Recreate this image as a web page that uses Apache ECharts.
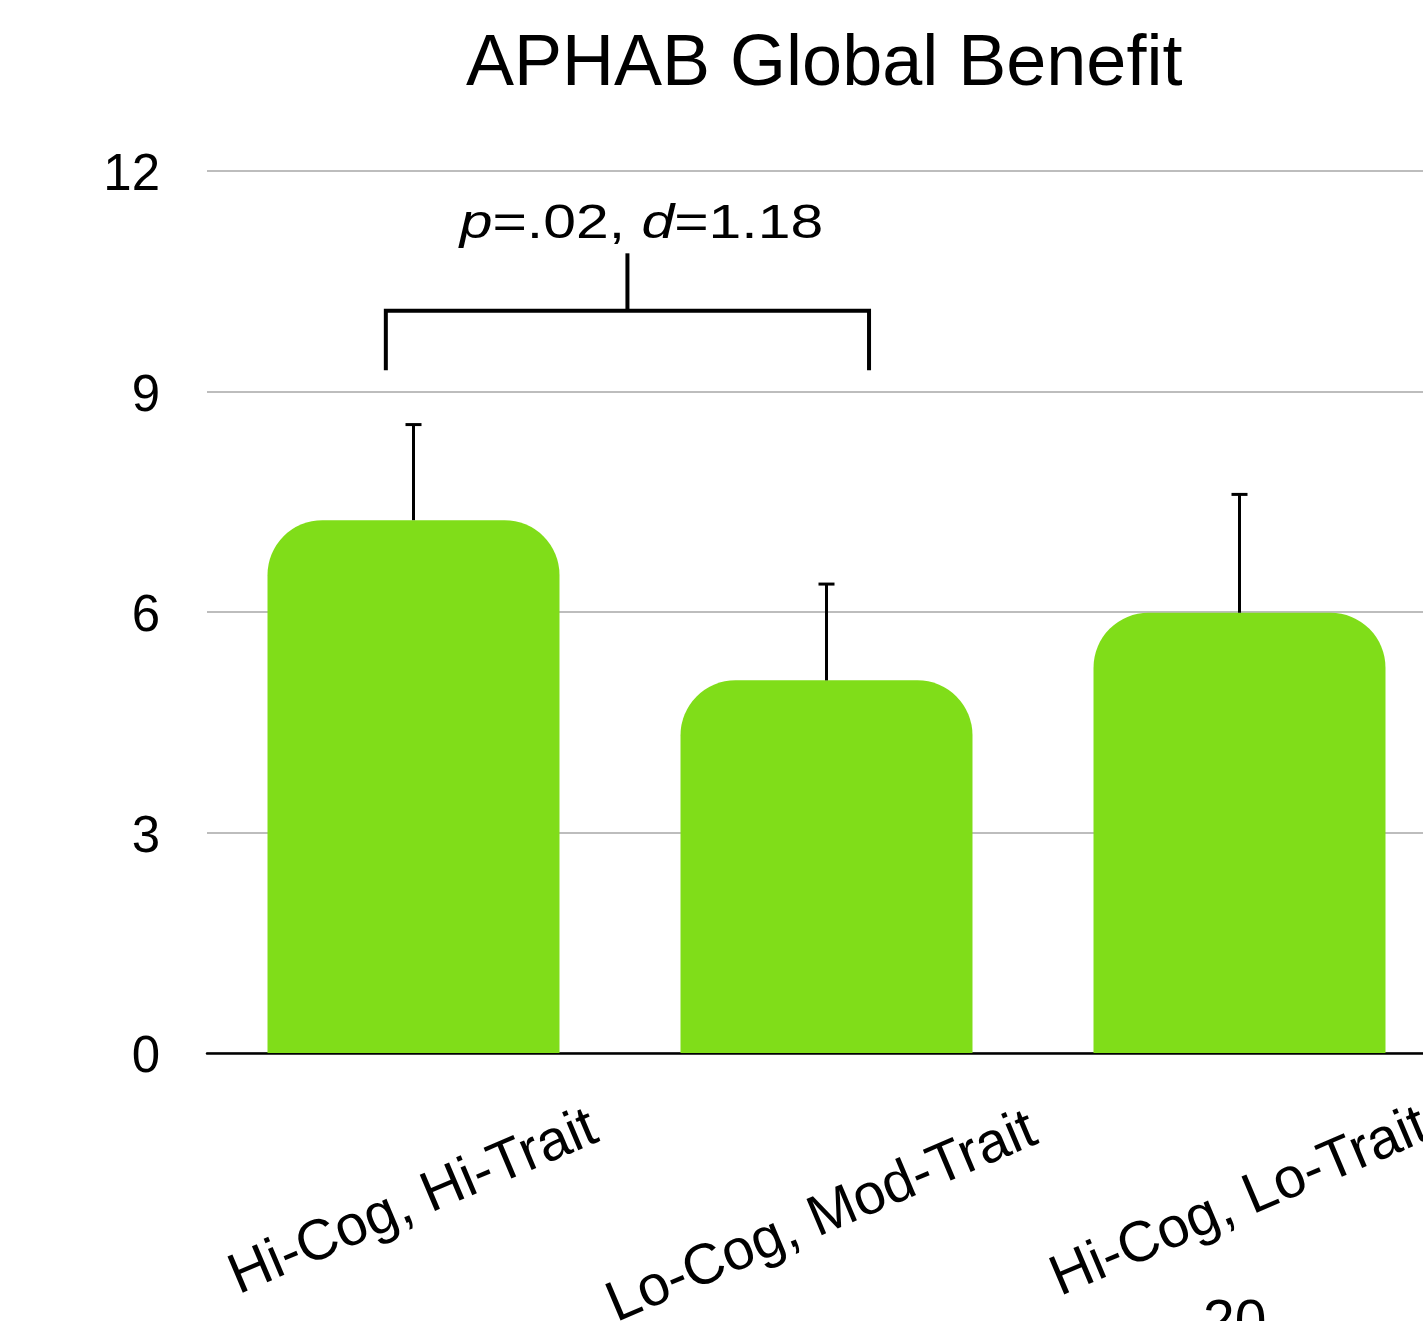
<!DOCTYPE html>
<html><head><meta charset="utf-8">
<script src="https://cdn.jsdelivr.net/npm/echarts@6/dist/echarts.min.js"></script>
<style>html,body{margin:0;padding:0;background:#fff}#c{width:1423px;height:1321px}</style>
</head><body><div id="c"></div>
<script>
const titleText = 'APHAB Global Benefit';
const categories = ['Hi-Cog, Hi-Trait', 'Lo-Cog, Mod-Trait', 'Hi-Cog, Lo-Trait'];
const means = [7.25, 5.07, 5.99];
const errors = [1.30, 1.31, 1.61];
const yMin = 0, yMax = 12, yStep = 3;
// bracket: category positions (fractional) and value levels
const bracketX = [-0.067, 1.103];
const bracketLevels = { bar: 10.1, legBottom: 9.29, tickTop: 10.88, label: 11.27 };
const annotation = '{i|p}=.02, {i|d}=1.18';
const footText = '20';

const FONT = '"Liberation Sans", Helvetica, Arial, sans-serif';
const chart = echarts.init(document.getElementById('c'), null, { renderer: 'canvas' });

const errData = means.map((m, i) => [i, m, m + errors[i]]);

const option = {
  backgroundColor: '#ffffff',
  animation: false,
  title: {
    text: titleText, left: 466, top: 29, padding: 0,
    textStyle: { fontFamily: FONT, fontSize: 72, fontWeight: 'normal', color: '#000' }
  },
  grid: { left: 207, width: 1239, top: 171, bottom: 268, containLabel: false, outerBoundsMode: 'none' },
  xAxis: {
    type: 'category', data: categories,
    axisTick: { show: false },
    axisLine: { lineStyle: { color: '#000', width: 2.5 } },
    axisLabel: {
      interval: 0, rotate: 23, align: 'center', verticalAlign: 'middle', margin: 150,
      fontFamily: FONT, fontSize: 57, color: '#000',
      formatter: function (v, i) { return i === 1 ? '{m|' + v + '}' : '{n|' + v + '}'; },
      rich: {
        n: { fontFamily: FONT, fontSize: 57, color: '#000' },
        m: { fontFamily: FONT, fontSize: 57, color: '#000', padding: [24, 20, 0, 0] }
      }
    }
  },
  yAxis: {
    type: 'value', min: yMin, max: yMax, interval: yStep,
    axisLine: { show: false }, axisTick: { show: false },
    axisLabel: {
      margin: 47, fontFamily: FONT, fontSize: 51, color: '#000',
      formatter: '{a|{value}}',
      rich: { a: { fontFamily: FONT, fontSize: 51, color: '#000', padding: [10, 0, 0, 0] } }
    },
    splitLine: { lineStyle: { color: '#BDBDBD', width: 2 } }
  },
  series: [
    {
      type: 'bar', data: means, barWidth: '70.7%',
      itemStyle: { color: '#80DD19', borderRadius: [55, 55, 0, 0] },
      z: 2
    },
    {
      type: 'custom', data: errData, z: 5,
      renderItem: function (params, api) {
        const i = api.value(0);
        const lo = api.coord([i, api.value(1)]);
        const hi = api.coord([i, api.value(2)]);
        const half = 8;
        return {
          type: 'group',
          children: [
            { type: 'line', shape: { x1: lo[0], y1: lo[1], x2: hi[0], y2: hi[1] },
              style: { stroke: '#000', lineWidth: 3 } },
            { type: 'line', shape: { x1: hi[0] - half, y1: hi[1], x2: hi[0] + half, y2: hi[1] },
              style: { stroke: '#000', lineWidth: 3 } }
          ]
        };
      }
    },
    {
      type: 'custom', data: [[0]], z: 6,
      renderItem: function (params, api) {
        const band = api.size([1, 0])[0];
        const base = api.coord([0, bracketLevels.bar]);
        const xl = base[0] + bracketX[0] * band;
        const xr = base[0] + bracketX[1] * band;
        const xm = (xl + xr) / 2;
        const yBar = base[1];
        const yLeg = api.coord([0, bracketLevels.legBottom])[1];
        const yTick = api.coord([0, bracketLevels.tickTop])[1];
        const yLab = api.coord([0, bracketLevels.label])[1];
        return {
          type: 'group',
          children: [
            { type: 'polyline', shape: { points: [[xl, yLeg], [xl, yBar], [xr, yBar], [xr, yLeg]] },
              style: { stroke: '#000', lineWidth: 4, fill: null } },
            { type: 'line', shape: { x1: xm, y1: yBar, x2: xm, y2: yTick },
              style: { stroke: '#000', lineWidth: 4 } },
            { type: 'text', x: xm + 14, y: yLab, scaleX: 1.28, scaleY: 1.03,
              style: {
                text: annotation, fontFamily: FONT, fontSize: 46, fill: '#000',
                align: 'center', verticalAlign: 'middle',
                rich: { i: { fontStyle: 'italic', fontFamily: FONT, fontSize: 46, fill: '#000' } }
              } }
          ]
        };
      }
    }
  ],
  graphic: [
    { type: 'text', left: 1203, top: 1296,
      style: { text: footText, fontFamily: FONT, fontSize: 57, fill: '#000' } }
  ]
};
chart.setOption(option);
</script>
</body></html>
